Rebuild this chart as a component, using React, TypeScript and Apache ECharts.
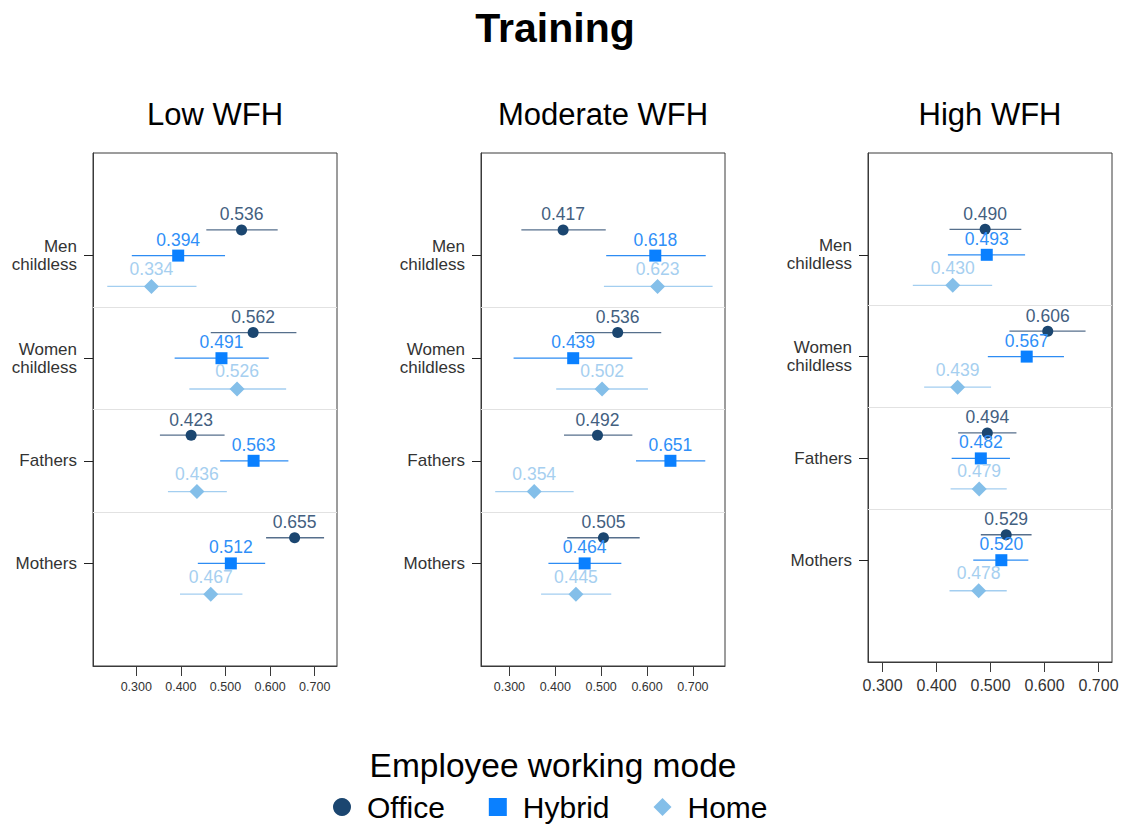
import React, { useEffect, useRef } from "react";
import * as echarts from "echarts";

const categories = ["Men\nchildless", "Women\nchildless", "Fathers", "Mothers"];
const modes = ["Office", "Hybrid", "Home"];
const panelTitles = ["Low WFH", "Moderate WFH", "High WFH"];
const xTicks = [0.3, 0.4, 0.5, 0.6, 0.7];

// Low WFH
const lowOfficeEst = [0.536, 0.562, 0.423, 0.655];
const lowOfficeLo = [0.457, 0.467, 0.353, 0.591];
const lowOfficeHi = [0.617, 0.659, 0.498, 0.721];
const lowHybridEst = [0.394, 0.491, 0.563, 0.512];
const lowHybridLo = [0.29, 0.386, 0.488, 0.438];
const lowHybridHi = [0.499, 0.597, 0.641, 0.589];
const lowHomeEst = [0.334, 0.526, 0.436, 0.467];
const lowHomeLo = [0.235, 0.419, 0.371, 0.398];
const lowHomeHi = [0.435, 0.636, 0.503, 0.538];

// Moderate WFH
const modOfficeEst = [0.417, 0.536, 0.492, 0.505];
const modOfficeLo = [0.326, 0.443, 0.419, 0.426];
const modOfficeHi = [0.51, 0.631, 0.568, 0.584];
const modHybridEst = [0.618, 0.439, 0.651, 0.464];
const modHybridLo = [0.511, 0.309, 0.576, 0.385];
const modHybridHi = [0.728, 0.568, 0.727, 0.544];
const modHomeEst = [0.623, 0.502, 0.354, 0.445];
const modHomeLo = [0.506, 0.402, 0.269, 0.369];
const modHomeHi = [0.743, 0.602, 0.44, 0.522];

// High WFH
const highOfficeEst = [0.49, 0.606, 0.494, 0.529];
const highOfficeLo = [0.424, 0.535, 0.44, 0.482];
const highOfficeHi = [0.557, 0.676, 0.548, 0.576];
const highHybridEst = [0.493, 0.567, 0.482, 0.52];
const highHybridLo = [0.421, 0.495, 0.428, 0.468];
const highHybridHi = [0.564, 0.636, 0.536, 0.57];
const highHomeEst = [0.43, 0.439, 0.479, 0.478];
const highHomeLo = [0.356, 0.377, 0.426, 0.424];
const highHomeHi = [0.503, 0.501, 0.53, 0.53];

const panelData = [
  [
    [lowOfficeEst, lowOfficeLo, lowOfficeHi],
    [lowHybridEst, lowHybridLo, lowHybridHi],
    [lowHomeEst, lowHomeLo, lowHomeHi],
  ],
  [
    [modOfficeEst, modOfficeLo, modOfficeHi],
    [modHybridEst, modHybridLo, modHybridHi],
    [modHomeEst, modHomeLo, modHomeHi],
  ],
  [
    [highOfficeEst, highOfficeLo, highOfficeHi],
    [highHybridEst, highHybridLo, highHybridHi],
    [highHomeEst, highHomeLo, highHomeHi],
  ],
];

const FONT = "'Liberation Sans', Arial, Helvetica, sans-serif";

const markerColors = ["#1b4670", "#0a80ff", "#84bfe9"];
const labelColors = ["#43607f", "#2f8ff8", "#a6cff0"];
const lineColors = ["#566f8c", "#2d8cf3", "#a3cef0"];
const symbols = ["circle", "rect", "diamond"];
const symbolSizes = [11, 12, 15];
const modeOffsets = [-0.25, 0, 0.3];

const grids = [
  { left: 93, top: 153, width: 244, height: 513 },
  { left: 481, top: 153, width: 244, height: 513 },
  { left: 868, top: 153, width: 244, height: 509 },
];
const xRanges = [
  [0.203, 0.75],
  [0.238, 0.77],
  [0.273, 0.725],
];
const tickFont = [12.5, 12.5, 16];
const titleX = [215, 603, 990];

export default function App() {
  const ref = useRef<HTMLDivElement>(null);
  useEffect(() => {
    if (!ref.current) return;
    const chart = echarts.init(ref.current, null, { renderer: "svg" });

    const xAxis: any[] = [];
    const yAxis: any[] = [];
    const series: any[] = [];

    grids.forEach((g, p) => {
      xAxis.push({
        type: "value",
        gridIndex: p,
        position: "bottom",
        min: xRanges[p][0],
        max: xRanges[p][1],
        axisLine: { show: true, onZero: false, lineStyle: { color: "#3a3a3a", width: 1 } },
        axisTick: {
          show: true,
          inside: false,
          customValues: xTicks,
          length: 10,
          lineStyle: { color: "#3a3a3a" },
        },
        axisLabel: {
          show: true,
          customValues: xTicks,
          formatter: (v: number) => v.toFixed(3),
          fontSize: tickFont[p],
          fontFamily: FONT,
          color: "#333",
          margin: p === 2 ? 15 : 14,
        },
        splitLine: { show: false },
      });
      yAxis.push({
        type: "value",
        gridIndex: p,
        position: "left",
        min: 0,
        max: 5,
        inverse: true,
        axisLine: { show: true, onZero: false, lineStyle: { color: "#3a3a3a", width: 1 } },
        axisTick: {
          show: true,
          customValues: [1, 2, 3, 4],
          length: 9,
          lineStyle: { color: "#222" },
        },
        axisLabel: {
          show: true,
          customValues: [1, 2, 3, 4],
          formatter: (v: number) => categories[Math.round(v) - 1] || "",
          fontSize: 17,
          lineHeight: 18,
          fontFamily: FONT,
          color: "#333",
          margin: 16,
          align: "right",
        },
        splitLine: { show: false },
      });

      modes.forEach((m, k) => {
        const [est, lo, hi] = panelData[p][k];
        const ciData = categories.map((_, i) => [lo[i], hi[i], i + 1 + modeOffsets[k]]);
        const ptData = categories.map((_, i) => [est[i], i + 1 + modeOffsets[k]]);
        series.push({
          type: "custom",
          name: m + " CI " + p,
          xAxisIndex: p,
          yAxisIndex: p,
          silent: true,
          encode: { x: [0, 1], y: 2 },
          data: ciData,
          renderItem: (_params: any, api: any) => {
            const a = api.coord([api.value(0), api.value(2)]);
            const b = api.coord([api.value(1), api.value(2)]);
            return {
              type: "line",
              shape: { x1: a[0], y1: a[1], x2: b[0], y2: b[1] },
              style: { stroke: lineColors[k], lineWidth: 1.3 },
            };
          },
          z: 2,
        });
        const s: any = {
          type: "scatter",
          name: m,
          xAxisIndex: p,
          yAxisIndex: p,
          symbol: symbols[k],
          symbolSize: symbolSizes[k],
          itemStyle: { color: markerColors[k], opacity: 1 },
          data: ptData,
          label: {
            show: true,
            position: "top",
            distance: 1,
            formatter: (pp: any) => pp.value[0].toFixed(3),
            color: labelColors[k],
            fontSize: 17.5,
            fontFamily: FONT,
          },
          z: 3,
        };
        if (k === 0) {
          s.markLine = {
            silent: true,
            symbol: ["none", "none"],
            label: { show: false },
            lineStyle: { color: "#e2e2e2", width: 1, type: "solid" },
            data: [{ yAxis: 1.5 }, { yAxis: 2.5 }, { yAxis: 3.5 }],
          };
        }
        series.push(s);
      });
    });

    const graphics: any[] = [
      {
        type: "text",
        x: 555,
        y: 28,
        style: {
          text: "Training",
          font: `bold 41px ${FONT}`,
          fill: "#000",
          textAlign: "center",
          textVerticalAlign: "middle",
        },
      },
      {
        type: "text",
        x: 553,
        y: 765,
        style: {
          text: "Employee working mode",
          font: `33.5px ${FONT}`,
          fill: "#000",
          textAlign: "center",
          textVerticalAlign: "middle",
        },
      },
    ];
    panelTitles.forEach((t, p) => {
      graphics.push({
        type: "text",
        x: titleX[p],
        y: 114,
        style: {
          text: t,
          font: `31px ${FONT}`,
          fill: "#000",
          textAlign: "center",
          textVerticalAlign: "middle",
        },
      });
    });

    chart.setOption({
      animation: false,
      backgroundColor: "#fff",
      grid: grids.map((g) => ({
        ...g,
        show: true,
        borderColor: "#3a3a3a",
        borderWidth: 1,
        backgroundColor: "transparent",
        containLabel: false,
      })),
      xAxis,
      yAxis,
      series,
      graphic: graphics,
      legend: {
        data: [
          { name: "Office", icon: "circle" },
          { name: "Hybrid", icon: "rect" },
          { name: "Home", icon: "diamond" },
        ],
        left: 328,
        top: 787,
        itemWidth: 18,
        itemHeight: 18,
        itemGap: 44,
        selectedMode: false,
        textStyle: { fontSize: 30, fontFamily: FONT, color: "#000", padding: [0, 0, 0, 11] },
      },
    });
    return () => chart.dispose();
  }, []);
  return (
    <div
      ref={ref}
      style={{ position: "fixed", left: 0, top: 0, width: "1128px", height: "826px" }}
    />
  );
}
